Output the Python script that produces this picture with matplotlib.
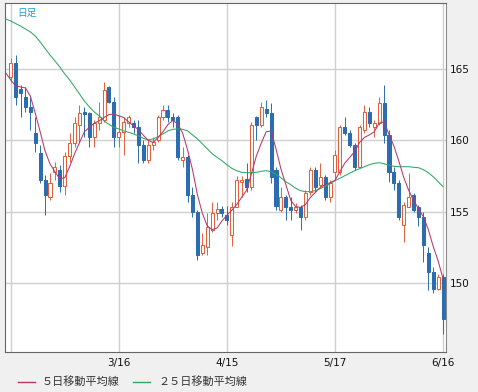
import numpy as np
import matplotlib
matplotlib.use('Agg')
import matplotlib.pyplot as plt
from matplotlib.lines import Line2D

# daily candles (trading-day index 0..88)
opens = [164.4, 165.4, 163.6, 163.0, 162.3, 160.5, 159.1, 157.2, 156.0, 157.8,
         157.9, 156.8, 158.9, 159.8, 161.1, 162.0, 161.9, 160.2, 161.2, 161.4,
         163.7, 162.7, 160.2, 160.6, 161.2, 161.2, 160.9, 159.7, 158.6, 159.7,
         160.0, 161.6, 162.1, 161.6, 161.6, 158.6, 158.8, 156.2, 155.0, 152.1,
         152.5, 153.7, 154.9, 155.2, 154.8, 153.4, 155.3, 157.1, 157.3, 156.7,
         161.6, 161.1, 162.2, 161.9, 157.9, 155.1, 156.0, 155.35, 155.1, 155.35,
         154.6, 156.4, 157.9, 156.9, 157.4, 156.0, 157.8, 157.8, 160.9, 160.5,
         159.7, 158.1, 160.7, 162.0, 160.95, 161.2, 162.6, 160.4, 157.8, 157.0,
         154.1, 155.35, 156.2, 155.3, 154.65, 152.1, 150.8, 149.55, 150.45]
highs = [165.8, 166.0, 163.9, 163.7, 163.0, 161.6, 159.7, 157.6, 157.7, 158.5,
         158.3, 159.2, 160.5, 161.6, 162.5, 162.3, 162.0, 161.4, 162.7, 164.1,
         163.8, 163.0, 161.8, 161.6, 161.8, 161.4, 161.4, 160.0, 160.0, 160.2,
         161.8, 162.5, 162.5, 161.9, 161.8, 159.5, 159.0, 156.7, 155.1, 153.5,
         154.9, 155.7, 155.7, 155.4, 155.4, 155.7, 157.5, 157.5, 158.4, 161.3,
         161.7, 162.7, 162.8, 162.6, 158.1, 156.7, 156.2, 156.0, 155.6, 155.5,
         156.5, 158.1, 158.1, 158.4, 157.6, 157.2, 159.3, 161.1, 161.6, 160.7,
         159.8, 161.1, 162.5, 162.3, 161.4, 163.0, 163.9, 160.7, 158.1, 157.2,
         155.7, 157.7, 156.3, 155.5, 155.0, 152.5, 151.1, 150.6, 150.6]
lows = [164.1, 162.5, 161.6, 162.0, 160.7, 159.2, 157.0, 154.8, 155.8, 157.2,
        156.4, 156.2, 158.5, 159.5, 159.9, 160.2, 159.5, 159.5, 160.7, 161.3,
        162.6, 159.5, 159.5, 159.0, 160.9, 160.5, 158.4, 158.4, 158.4, 159.3,
        159.9, 161.4, 161.3, 160.9, 158.6, 158.1, 155.7, 154.6, 151.6, 152.0,
        152.0, 153.6, 154.4, 154.6, 154.1, 152.6, 155.3, 156.0, 156.4, 156.5,
        160.0, 160.9, 161.6, 157.0, 155.1, 155.0, 154.4, 154.4, 154.9, 153.7,
        154.4, 156.2, 156.4, 156.75, 155.8, 155.7, 157.3, 157.6, 160.4, 159.5,
        157.9, 158.1, 160.5, 160.9, 160.2, 161.1, 159.8, 157.1, 156.5, 154.4,
        152.9, 155.3, 155.0, 154.0, 151.5, 149.5, 149.3, 149.5, 146.4]
closes = [165.4, 163.0, 163.3, 162.3, 162.0, 159.8, 157.2, 156.2, 157.0, 158.1,
          156.8, 158.9, 159.8, 161.2, 161.9, 161.85, 160.2, 161.2, 161.6, 163.5,
          162.7, 160.2, 160.6, 161.3, 161.6, 160.9, 159.7, 158.6, 159.7, 159.9,
          161.6, 162.1, 161.6, 161.4, 158.8, 158.8, 156.2, 155.0, 152.0, 152.7,
          153.9, 154.9, 155.2, 154.9, 154.4, 155.3, 157.2, 157.2, 156.7, 161.1,
          161.1, 162.3, 161.9, 157.4, 155.4, 156.0, 155.3, 155.1, 155.35, 154.6,
          156.3, 157.9, 156.7, 157.45, 156.05, 157.0, 159.0, 160.9, 160.5, 159.7,
          158.15, 160.9, 162.0, 161.2, 161.2, 162.6, 160.4, 157.8, 157.0, 154.65,
          155.5, 156.05, 155.1, 154.65, 152.7, 150.8, 149.55, 150.45, 147.45]

# moving averages, index -1..88 (first point is the day before the window)
ma5 = [164.72, 164.23, 163.81, 163.74, 163.67, 163.1, 161.9, 160.6, 159.25, 158.35,
       157.8, 157.3, 157.38, 158.15, 159.06, 159.83, 160.6, 160.9, 161.2, 161.36,
       161.6, 161.8, 161.85, 161.71, 161.6, 161.29, 161.01, 160.75, 160.35, 160.0,
       159.85, 160.2, 160.6, 161.1, 161.4, 161.15, 160.5, 159.34, 157.95, 156.2,
       154.9, 154.0, 153.74, 153.85, 154.35, 154.75, 155.1, 155.5, 156.0, 156.5,
       157.65, 158.9, 159.8, 160.6, 160.65, 159.4, 158.0, 156.9, 155.8, 155.35,
       155.3, 155.5, 156.0, 156.35, 156.7, 156.9, 157.03, 157.2, 157.8, 158.4,
       158.8, 159.2, 159.85, 160.2, 160.38, 160.6, 161.2, 161.3, 160.4, 159.6,
       158.55, 157.4, 156.5, 155.8, 155.2, 154.65, 153.75, 152.56, 151.55, 150.3]
ma25 = [168.50, 168.36, 168.18, 168.01, 167.80, 167.59, 167.31, 166.89, 166.43, 165.98,
        165.56, 165.14, 164.65, 164.23, 163.74, 163.25, 162.76, 162.34, 161.99, 161.71,
        161.36, 161.12, 160.91, 160.80, 160.66, 160.56, 160.45, 160.31, 160.14, 160.03,
        160.10, 160.24, 160.45, 160.66, 160.77, 160.80, 160.77, 160.66, 160.38, 160.10,
        159.76, 159.41, 159.06, 158.81, 158.57, 158.29, 158.04, 157.87, 157.76, 157.73,
        157.73, 157.76, 157.83, 157.87, 157.80, 157.62, 157.38, 157.10, 156.89, 156.64,
        156.47, 156.40, 156.40, 156.47, 156.61, 156.78, 156.96, 157.17, 157.34, 157.52,
        157.69, 157.87, 158.01, 158.15, 158.29, 158.39, 158.43, 158.36, 158.25, 158.18,
        158.15, 158.15, 158.15, 158.11, 158.08, 157.94, 157.73, 157.45, 157.10, 156.75]

date_labels = ['', '3/16', '4/15', '5/17', '6/16']
price_ticks = [150, 155, 160, 165]

UP = '#e2603c'
DOWN = '#2b6db0'
MA5_COL = '#b8386a'
MA25_COL = '#2fa862'

W, H = 478, 392
fig = plt.figure(figsize=(W / 100, H / 100), dpi=100, facecolor='#f0f0f0')
ax = fig.add_axes([4.5 / W, 1 - 352 / H, (446 - 4.5) / W, (352 - 2.7) / H])
ax.set_facecolor('white')

x = np.arange(len(closes))
o = np.array(opens)
c = np.array(closes)
up = c >= o

# wicks first, bodies on top
ax.vlines(x[up], np.array(lows)[up], np.array(highs)[up], color=UP, lw=0.7, zorder=2)
ax.vlines(x[~up], np.array(lows)[~up], np.array(highs)[~up], color=DOWN, lw=0.7, zorder=2)

bottoms = np.minimum(o, c)
heights = np.maximum(np.abs(c - o), 0.08)
ax.bar(x[up], heights[up], bottom=bottoms[up], width=0.62,
       facecolor='white', edgecolor=UP, linewidth=0.75, zorder=3)
ax.bar(x[~up], heights[~up], bottom=bottoms[~up], width=0.62,
       facecolor=DOWN, edgecolor=DOWN, linewidth=0.75, zorder=3)

xm = np.arange(-1, len(closes))
ax.plot(xm, ma25, color=MA25_COL, lw=0.75, zorder=4)
ax.plot(xm, ma5, color=MA5_COL, lw=0.75, zorder=4)

ax.set_xlim(-1.26, 88.6)
ax.set_ylim(145.17, 169.64)

ax.set_xticks([0, 22, 44, 66, 88])
ax.set_xticklabels(date_labels)
ax.set_yticks(price_ticks)
ax.yaxis.tick_right()
ax.tick_params(axis='y', length=0, pad=3, labelsize=7.5, labelcolor='#111111')
ax.tick_params(axis='x', length=0, pad=4, labelsize=7.5, labelcolor='#111111')
ax.grid(True, color='#cfcfcf', linewidth=1)
ax.set_axisbelow(True)
for side in ['left', 'bottom', 'top']:
    ax.spines[side].set_color('#666666')
ax.spines['right'].set_color('#8a8a8a')

fig.text(17 / W, 1 - 12.5 / H, '日足', color='#1e9fd8', fontsize=7, va='center',
         family=['Noto Sans CJK JP', 'DejaVu Sans'])

# legend below the chart
ly = 1 - 382 / H
fig.add_artist(Line2D([18 / W, 35 / W], [ly, ly], color=MA5_COL, lw=1))
fig.text(42 / W, ly, '５日移動平均線', va='center', fontsize=8, color='#333333',
         family=['Noto Sans CJK JP', 'DejaVu Sans'])
fig.add_artist(Line2D([133 / W, 150 / W], [ly, ly], color=MA25_COL, lw=1))
fig.text(158 / W, ly, '２５日移動平均線', va='center', fontsize=8, color='#333333',
         family=['Noto Sans CJK JP', 'DejaVu Sans'])

fig.savefig('out.png', dpi=100, facecolor=fig.get_facecolor())
